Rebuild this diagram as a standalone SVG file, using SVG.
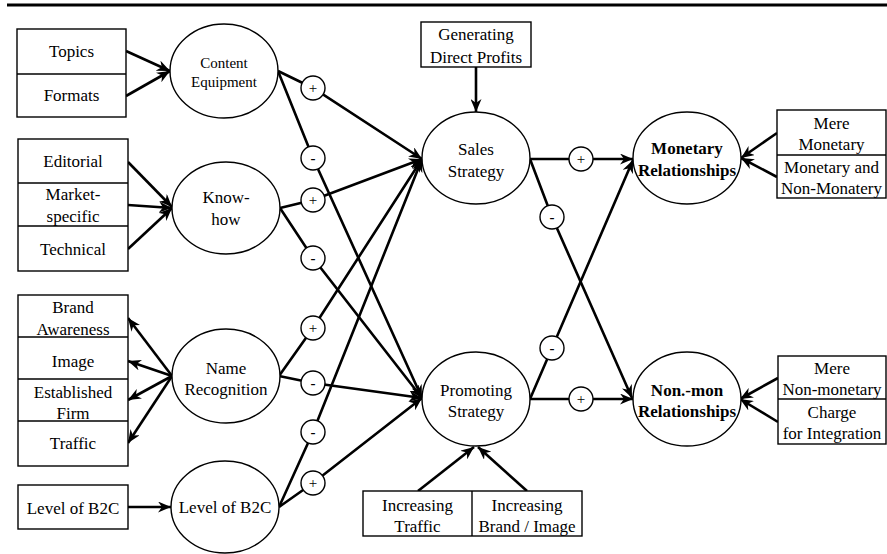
<svg xmlns="http://www.w3.org/2000/svg" width="887" height="554" viewBox="0 0 887 554" font-family="'Liberation Serif', 'Times New Roman', serif">
<defs>
<style>
text{font-family:'Liberation Serif','Times New Roman',serif;font-size:17px;fill:#000;text-anchor:middle}
.sm{font-size:15px}
.b{font-weight:bold}
.box{fill:#fff;stroke:#000;stroke-width:1.4}
.ell{fill:#fff;stroke:#000;stroke-width:1.4}
.sg{fill:#fff;stroke:#000;stroke-width:1.4}
.dv{stroke:#000;stroke-width:1.4}
.ca{fill:none;stroke:#000;stroke-width:2.6;marker-end:url(#ah)}
.sign{font-size:15px}
</style>
<marker id="ah" markerUnits="userSpaceOnUse" markerWidth="14" markerHeight="11" refX="13" refY="5.5" orient="auto">
<path d="M0,0 L13,5.5 L0,11 L4,5.5 z" fill="#000"/>
</marker>
</defs>
<rect width="887" height="554" fill="#fff"/>
<line x1="7" y1="5" x2="887" y2="5" stroke="#000" stroke-width="3"/>

<g id="connectors">
<line class="ca" x1="126" y1="51" x2="170" y2="71"/>
<line class="ca" x1="126" y1="96" x2="170" y2="71"/>
<line class="ca" x1="128" y1="162" x2="172" y2="207"/>
<line class="ca" x1="128" y1="205" x2="172" y2="208"/>
<line class="ca" x1="128" y1="249" x2="172" y2="208"/>
<line class="ca" x1="172" y1="376" x2="128" y2="318"/>
<line class="ca" x1="172" y1="376" x2="128" y2="361"/>
<line class="ca" x1="172" y1="376" x2="128" y2="400"/>
<line class="ca" x1="172" y1="376" x2="128" y2="443"/>
<line class="ca" x1="128" y1="507" x2="171" y2="507"/>
<line class="ca" x1="476" y1="67" x2="476" y2="112"/>
<line class="ca" x1="418" y1="491" x2="474" y2="447"/>
<line class="ca" x1="527" y1="491" x2="478" y2="447"/>
<line class="ca" x1="777" y1="133" x2="741" y2="158"/>
<line class="ca" x1="777" y1="177" x2="741" y2="158"/>
<line class="ca" x1="778" y1="378" x2="740" y2="399"/>
<line class="ca" x1="778" y1="422" x2="740" y2="399"/>

<polyline class="ca" points="278,71 313,88 422,159"/>
<polyline class="ca" points="278,71 313,158 422,398"/>
<polyline class="ca" points="280,208 313,200 422,159"/>
<polyline class="ca" points="280,208 313,258 422,398"/>
<polyline class="ca" points="279,376 313,328 422,159"/>
<polyline class="ca" points="279,376 313,383 422,398"/>
<polyline class="ca" points="279,507 313,432 422,159"/>
<polyline class="ca" points="279,507 313,483 422,398"/>

<polyline class="ca" points="530,159 581,159 633,159"/>
<polyline class="ca" points="530,159 552,217 632,398"/>
<polyline class="ca" points="530,399 552,348 633,160"/>
<polyline class="ca" points="530,399 581,399 633,399"/>
</g>

<g id="signs">
<circle class="sg" cx="313" cy="88" r="12"/><text class="sign" x="313" y="93">+</text>
<circle class="sg" cx="313" cy="158" r="12"/><text class="sign b" x="313" y="163">-</text>
<circle class="sg" cx="313" cy="200" r="12"/><text class="sign" x="313" y="205">+</text>
<circle class="sg" cx="313" cy="258" r="12"/><text class="sign b" x="313" y="263">-</text>
<circle class="sg" cx="313" cy="328" r="12"/><text class="sign" x="313" y="333">+</text>
<circle class="sg" cx="313" cy="383" r="12"/><text class="sign b" x="313" y="388">-</text>
<circle class="sg" cx="313" cy="432" r="12"/><text class="sign b" x="313" y="437">-</text>
<circle class="sg" cx="313" cy="483" r="12"/><text class="sign" x="313" y="488">+</text>
<circle class="sg" cx="581" cy="159" r="12"/><text class="sign" x="581" y="164">+</text>
<circle class="sg" cx="552" cy="217" r="12"/><text class="sign b" x="552" y="222">-</text>
<circle class="sg" cx="552" cy="348" r="12"/><text class="sign b" x="552" y="353">-</text>
<circle class="sg" cx="581" cy="399" r="12"/><text class="sign" x="581" y="404">+</text>
</g>

<g id="box-topics-formats">
<rect class="box" x="17" y="29" width="109" height="88"/>
<line class="dv" x1="17" y1="74" x2="126" y2="74"/>
<text x="71.5" y="57">Topics</text>
<text x="71.5" y="101">Formats</text>
</g>
<g id="content-equipment">
<ellipse class="ell" cx="224" cy="71" rx="54" ry="47"/>
<text class="sm" x="224" y="68">Content</text>
<text class="sm" x="224" y="87">Equipment</text>
</g>

<g id="box-knowhow">
<rect class="box" x="18" y="139" width="110" height="132"/>
<line class="dv" x1="18" y1="183" x2="128" y2="183"/>
<line class="dv" x1="18" y1="226" x2="128" y2="226"/>
<text x="73" y="167">Editorial</text>
<text x="73" y="200">Market-</text>
<text x="73" y="222">specific</text>
<text x="73" y="255">Technical</text>
</g>
<g id="know-how">
<ellipse class="ell" cx="226" cy="208" rx="54" ry="46"/>
<text x="226" y="203">Know-</text>
<text x="226" y="225">how</text>
</g>

<g id="box-name">
<rect class="box" x="18" y="295" width="110" height="171"/>
<line class="dv" x1="18" y1="337" x2="128" y2="337"/>
<line class="dv" x1="18" y1="379" x2="128" y2="379"/>
<line class="dv" x1="18" y1="421" x2="128" y2="421"/>
<text x="73" y="313">Brand</text>
<text x="73" y="335">Awareness</text>
<text x="73" y="367">Image</text>
<text x="73" y="398">Established</text>
<text x="73" y="419">Firm</text>
<text x="73" y="449">Traffic</text>
</g>
<g id="name-recognition">
<ellipse class="ell" cx="226" cy="376" rx="54" ry="47"/>
<text x="226" y="374">Name</text>
<text x="226" y="395">Recognition</text>
</g>

<g id="box-b2c">
<rect class="box" x="18" y="485" width="110" height="44"/>
<text x="73" y="514">Level of B2C</text>
</g>
<g id="level-b2c">
<ellipse class="ell" cx="225" cy="507" rx="54" ry="46"/>
<text x="225" y="513">Level of B2C</text>
</g>

<g id="box-profits">
<rect class="box" x="421" y="22" width="110" height="45"/>
<text x="476" y="40">Generating</text>
<text x="476" y="63">Direct Profits</text>
</g>
<g id="sales-strategy">
<ellipse class="ell" cx="476" cy="158" rx="54" ry="46"/>
<text x="476" y="155">Sales</text>
<text x="476" y="177">Strategy</text>
</g>

<g id="promoting-strategy">
<ellipse class="ell" cx="476" cy="399" rx="54" ry="47"/>
<text x="476" y="396">Promoting</text>
<text x="476" y="417">Strategy</text>
</g>
<g id="box-increasing">
<rect class="box" x="363" y="491" width="219" height="45"/>
<line class="dv" x1="472" y1="491" x2="472" y2="536"/>
<text x="417.5" y="511">Increasing</text>
<text x="417.5" y="532">Traffic</text>
<text x="527" y="511">Increasing</text>
<text x="527" y="532">Brand / Image</text>
</g>

<g id="monetary">
<ellipse class="ell" cx="687" cy="158" rx="54" ry="46"/>
<text class="b" x="687" y="154">Monetary</text>
<text class="b" x="687" y="176">Relationships</text>
</g>
<g id="box-monetary">
<rect class="box" x="777" y="110" width="109" height="88"/>
<line class="dv" x1="777" y1="155" x2="886" y2="155"/>
<text x="831.5" y="129">Mere</text>
<text x="831.5" y="150">Monetary</text>
<text x="831.5" y="173">Monetary and</text>
<text x="831.5" y="194">Non-Monatery</text>
</g>

<g id="nonmonetary">
<ellipse class="ell" cx="687" cy="399" rx="54" ry="47"/>
<text class="b" x="687" y="396">Non.-mon</text>
<text class="b" x="687" y="417">Relationships</text>
</g>
<g id="box-nonmonetary">
<rect class="box" x="778" y="356" width="108" height="88"/>
<line class="dv" x1="778" y1="399" x2="886" y2="399"/>
<text x="832" y="374">Mere</text>
<text x="832" y="395">Non-monetary</text>
<text x="832" y="418">Charge</text>
<text x="832" y="439">for Integration</text>
</g>
</svg>
